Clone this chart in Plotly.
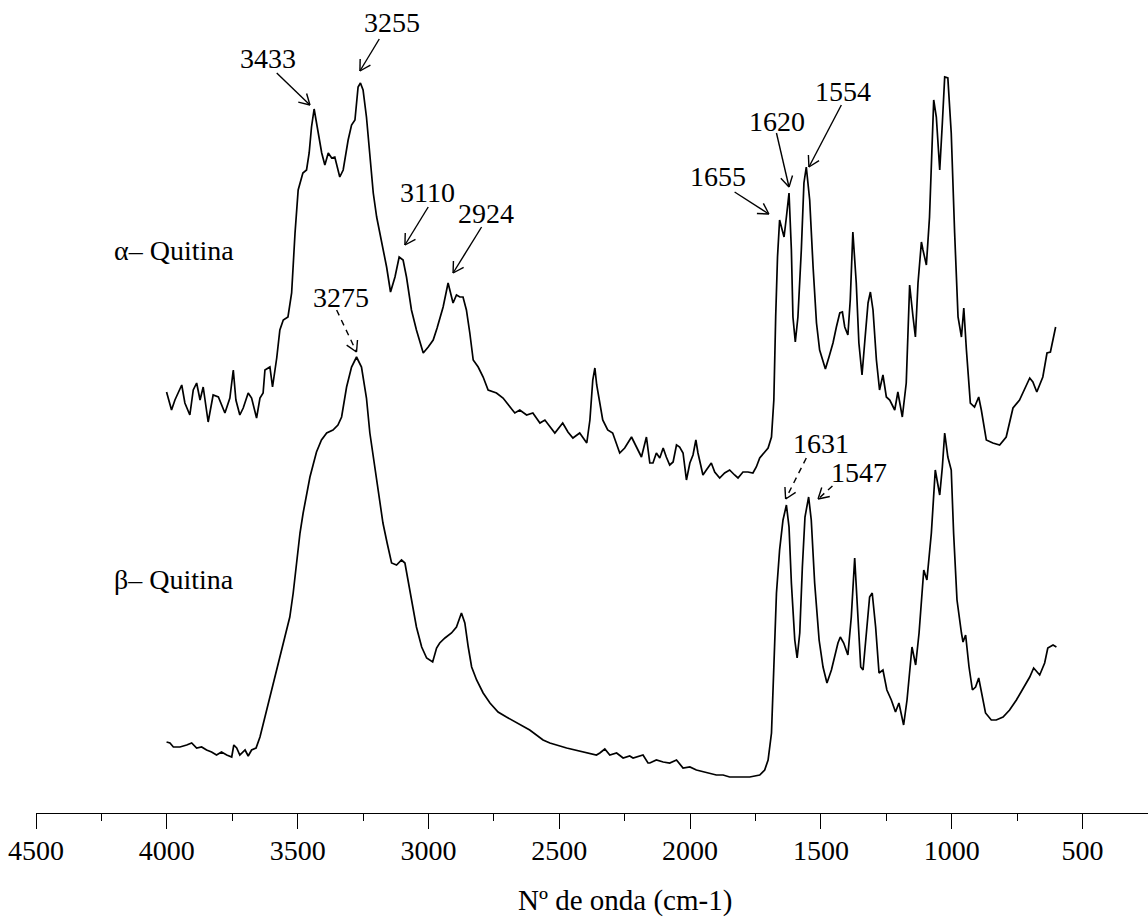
import math
import plotly.graph_objects as go

# ---------------- data (wavenumber in cm-1, intensity in arbitrary units) ----------------
ALPHA_WN = [4001, 3982, 3969, 3943, 3931, 3912, 3899, 3886, 3873, 3861, 3842, 3823, 3803, 3778, 3759, 3746,
            3736, 3721, 3708, 3689, 3676, 3657, 3644, 3632, 3625, 3606, 3596, 3580, 3568, 3555, 3537, 3523,
            3510, 3498, 3480, 3466, 3456, 3447, 3437, 3421, 3408, 3396, 3383, 3370, 3358, 3339, 3326, 3307,
            3294, 3281, 3269, 3260, 3250, 3237, 3224, 3211, 3198, 3186, 3173, 3160, 3145, 3128, 3112, 3097,
            3084, 3065, 3046, 3020, 3001, 2982, 2967, 2944, 2925, 2906, 2893, 2880, 2868, 2855, 2842, 2829,
            2810, 2791, 2772, 2740, 2715, 2689, 2670, 2651, 2625, 2601, 2574, 2555, 2536, 2517, 2487, 2467,
            2448, 2422, 2395, 2383, 2372, 2364, 2357, 2345, 2334, 2315, 2296, 2269, 2250, 2224, 2205, 2186,
            2167, 2154, 2142, 2129, 2116, 2103, 2091, 2078, 2065, 2052, 2040, 2027, 2014, 2001, 1989, 1978,
            1970, 1951, 1938, 1919, 1906, 1887, 1868, 1849, 1830, 1817, 1798, 1779, 1760, 1747, 1734, 1715,
            1702, 1689, 1680, 1673, 1666, 1658, 1649, 1641, 1632, 1622, 1613, 1607, 1598, 1588, 1575, 1565,
            1556, 1543, 1530, 1517, 1505, 1483, 1467, 1454, 1441, 1428, 1418, 1409, 1397, 1388, 1378, 1365,
            1355, 1343, 1332, 1320, 1311, 1301, 1288, 1276, 1263, 1250, 1237, 1218, 1206, 1189, 1174, 1161,
            1148, 1139, 1129, 1116, 1110, 1097, 1085, 1077, 1069, 1059, 1046, 1036, 1027, 1015, 1002, 989,
            976, 963, 954, 944, 929, 913, 897, 887, 868, 843, 817, 792, 766, 741, 722, 702,
            690, 675, 652, 636, 623, 613, 603]
ALPHA_Y = [421, 403, 413, 428, 410, 398, 423, 430, 413, 426, 391, 418, 416, 400, 415, 443,
           413, 398, 405, 420, 415, 395, 415, 420, 443, 446, 426, 455, 483, 493, 496, 520,
           580, 623, 640, 643, 660, 686, 704, 680, 660, 648, 660, 655, 656, 636, 643, 673,
           688, 693, 726, 730, 723, 696, 656, 620, 596, 580, 566, 546, 521, 536, 556, 553,
           536, 503, 483, 460, 466, 473, 485, 506, 530, 510, 518, 516, 516, 503, 480, 453,
           446, 436, 423, 420, 415, 407, 400, 403, 398, 400, 390, 393, 386, 380, 390, 381,
           375, 380, 370, 393, 433, 445, 428, 408, 393, 383, 380, 360, 365, 376, 366, 356,
           376, 350, 350, 360, 355, 365, 356, 348, 351, 368, 366, 360, 333, 350, 358, 373,
           360, 338, 343, 350, 341, 335, 340, 343, 338, 335, 341, 341, 340, 346, 355, 361,
           365, 376, 413, 496, 556, 593, 583, 576, 596, 620, 563, 496, 471, 496, 563, 630,
           646, 613, 546, 490, 463, 444, 458, 470, 486, 500, 501, 486, 478, 513, 581, 530,
           470, 438, 473, 510, 521, 503, 453, 423, 438, 416, 413, 403, 421, 396, 430, 528,
           496, 476, 530, 571, 563, 548, 596, 663, 713, 696, 643, 690, 736, 735, 680, 580,
           496, 476, 505, 463, 410, 406, 416, 403, 373, 370, 368, 376, 405, 413, 423, 435,
           431, 421, 436, 460, 461, 473, 486]

BETA_WN = [4001, 3988, 3975, 3950, 3924, 3905, 3886, 3867, 3848, 3829, 3810, 3791, 3771, 3752, 3744, 3733,
           3721, 3701, 3689, 3676, 3659, 3644, 3625, 3606, 3587, 3568, 3549, 3530, 3517, 3504, 3491, 3479,
           3466, 3453, 3441, 3428, 3409, 3389, 3365, 3346, 3332, 3313, 3294, 3275, 3256, 3237, 3224, 3205,
           3186, 3174, 3158, 3141, 3122, 3103, 3090, 3078, 3065, 3046, 3026, 3007, 2984, 2969, 2957, 2937,
           2912, 2893, 2874, 2861, 2848, 2835, 2816, 2791, 2765, 2734, 2702, 2663, 2613, 2562, 2536, 2472,
           2409, 2358, 2345, 2326, 2307, 2281, 2256, 2231, 2218, 2192, 2180, 2161, 2154, 2129, 2103, 2078,
           2052, 2027, 2001, 1976, 1944, 1925, 1900, 1874, 1849, 1810, 1772, 1734, 1715, 1702, 1689, 1680,
           1670, 1658, 1645, 1632, 1622, 1613, 1600, 1591, 1581, 1571, 1561, 1547, 1537, 1524, 1507, 1492,
           1477, 1460, 1447, 1435, 1426, 1413, 1397, 1384, 1371, 1358, 1348, 1339, 1326, 1314, 1304, 1291,
           1278, 1263, 1248, 1231, 1215, 1202, 1184, 1171, 1152, 1138, 1125, 1107, 1095, 1078, 1063, 1046,
           1036, 1027, 1015, 1002, 993, 980, 963, 957, 947, 934, 921, 909, 897, 887, 871, 849,
           830, 804, 779, 753, 715, 702, 687, 664, 645, 633, 613, 600]
BETA_Y = [71, 70, 66, 66, 68, 70, 65, 66, 63, 61, 58, 61, 58, 56, 68, 65,
          58, 63, 57, 63, 65, 76, 96, 116, 133, 156, 176, 196, 220, 250, 280, 300,
          320, 336, 348, 361, 373, 380, 383, 388, 396, 426, 446, 456, 446, 415, 380, 346,
          313, 290, 270, 250, 248, 253, 250, 233, 213, 186, 166, 155, 151, 165, 170, 175,
          180, 186, 200, 190, 166, 146, 133, 120, 110, 101, 96, 90, 83, 73, 70, 65,
          61, 58, 60, 64, 58, 60, 55, 57, 55, 57, 58, 50, 50, 53, 51, 50,
          53, 45, 46, 43, 41, 40, 38, 38, 36, 36, 36, 38, 43, 53, 80, 146,
          220, 263, 293, 308, 286, 230, 173, 155, 180, 246, 296, 316, 293, 230, 173, 146,
          130, 143, 156, 170, 176, 170, 158, 196, 255, 196, 146, 143, 180, 216, 220, 186,
          140, 143, 123, 113, 101, 110, 88, 113, 166, 148, 180, 243, 233, 280, 343, 318,
          346, 380, 356, 343, 280, 213, 180, 171, 178, 146, 123, 126, 135, 120, 100, 93,
          93, 96, 103, 113, 130, 136, 145, 138, 150, 165, 168, 166]

# peak labels: text, text position (wn, y), arrow tail (wn, y), arrow tip (wn, y), dashed
PEAK_LABELS = ["3433", "3255", "3110", "2924", "1655", "1620", "1554", "3275", "1631", "1547"]
PEAK_TEXT_WN = [3614, 3140, 3002, 2781, 1894, 1667, 1417, 3335, 1501, 1356]
PEAK_TEXT_Y = [755, 791, 621, 600, 637, 692, 722, 516, 370, 341]
PEAK_TAIL_WN = [3580, 3188, 3001, 2797, 1830, 1670, 1422, 3351, 1556, 1456]
PEAK_TAIL_Y = [740, 774, 606, 586, 621, 680, 708, 503, 355, 327]
PEAK_TIP_WN = [3453, 3262, 3090, 2906, 1699, 1622, 1546, 3275, 1635, 1511]
PEAK_TIP_Y = [708, 742, 568, 540, 599, 626, 646, 461, 314, 314]
PEAK_DASHED = [False, False, False, False, False, False, False, True, True, True]

SERIES_NAMES = ["\u03b1\u2013 Quitina", "\u03b2\u2013 Quitina"]
SERIES_LABEL_WN = [4211, 4211]
SERIES_LABEL_Y = [563, 234]

X_TITLE = "N\u00ba de onda (cm-1)"

# ---------------- layout constants ----------------
FONT = "Liberation Serif, Times New Roman, serif"
W, H = 1148, 918
ML, MR, MT, MB = 36, 0, 0, 105
X_RANGE = [4500, 250]
Y_RANGE = [0, 813]
FS = 28

fig = go.Figure()
for xs, ys in [(ALPHA_WN, ALPHA_Y), (BETA_WN, BETA_Y)]:
    fig.add_trace(go.Scatter(x=xs, y=ys, mode="lines", showlegend=False, hoverinfo="skip",
                             line=dict(color="black", width=1.7)))

plot_w = W - ML - MR
plot_h = H - MT - MB
sx = plot_w / (X_RANGE[0] - X_RANGE[1])
sy = plot_h / (Y_RANGE[1] - Y_RANGE[0])

shapes = []
annotations = []
HEAD_LEN = 12
HEAD_ANG = math.radians(30)
for i, lab in enumerate(PEAK_LABELS):
    x0, y0 = PEAK_TAIL_WN[i], PEAK_TAIL_Y[i]
    x1, y1 = PEAK_TIP_WN[i], PEAK_TIP_Y[i]
    dashed = PEAK_DASHED[i]
    shapes.append(dict(type="line", xref="x", yref="y", x0=x0, y0=y0, x1=x1, y1=y1,
                       line=dict(color="black", width=1.4, dash="6px,5px" if dashed else "solid")))
    # arrow head (open V) computed in pixel space
    vx = -(x0 - x1) * sx
    vy = -(y0 - y1) * sy
    n = math.hypot(vx, vy)
    vx, vy = vx / n, vy / n
    for s in (1, -1):
        c, sn = math.cos(s * HEAD_ANG), math.sin(s * HEAD_ANG)
        rx = (vx * c - vy * sn) * HEAD_LEN
        ry = (vx * sn + vy * c) * HEAD_LEN
        shapes.append(dict(type="line", xref="x", yref="y", x0=x1, y0=y1,
                           x1=x1 - rx / sx, y1=y1 - ry / sy,
                           line=dict(color="black", width=1.4)))
    annotations.append(dict(x=PEAK_TEXT_WN[i], y=PEAK_TEXT_Y[i], xref="x", yref="y", text=lab,
                            showarrow=False, xanchor="center", yanchor="middle",
                            font=dict(family=FONT, size=FS, color="black")))

for name, lx, ly in zip(SERIES_NAMES, SERIES_LABEL_WN, SERIES_LABEL_Y):
    annotations.append(dict(x=lx, y=ly, xref="x", yref="y", text=name, showarrow=False,
                            xanchor="left", yanchor="middle",
                            font=dict(family=FONT, size=FS, color="black")))

annotations.append(dict(x=(625 - ML) / plot_w, y=-(900 - plot_h) / plot_h, xref="paper", yref="paper",
                        text=X_TITLE, showarrow=False, xanchor="center", yanchor="middle",
                        font=dict(family=FONT, size=29, color="black")))

fig.update_layout(
    width=W, height=H,
    margin=dict(l=ML, r=MR, t=MT, b=MB),
    paper_bgcolor="white", plot_bgcolor="white",
    shapes=shapes, annotations=annotations,
    xaxis=dict(range=X_RANGE, showline=True, linecolor="black", linewidth=1.3,
               ticks="outside", ticklen=15, tickwidth=1.3, tickcolor="black",
               tickmode="linear", tick0=500, dtick=500, ticklabelstandoff=-3,
               tickfont=dict(family=FONT, size=FS, color="black"),
               showgrid=False, zeroline=False,
               minor=dict(ticks="outside", ticklen=7, tickwidth=1.3, tickcolor="black",
                          dtick=250, tick0=250, showgrid=False)),
    yaxis=dict(range=Y_RANGE, visible=False, showgrid=False, zeroline=False),
)

fig.write_html("out.html")
